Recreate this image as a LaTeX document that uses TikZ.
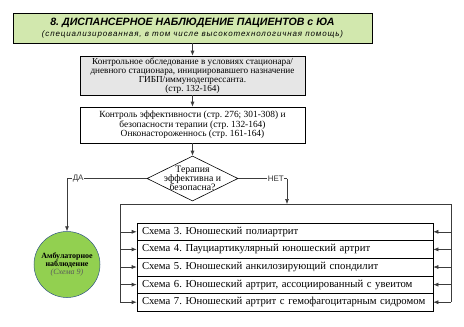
\documentclass[tikz,border=0pt]{standalone}
\usepackage{fontspec}
\setmainfont{Liberation Serif}
\newfontfamily\arialf{Liberation Sans}
\newfontfamily\arialsub[LetterSpace=11]{Liberation Sans}
\usetikzlibrary{shapes.geometric,arrows.meta,shadows}
\frenchspacing
\definecolor{titlegreen}{RGB}{210,232,174}
\definecolor{boxgray}{RGB}{230,230,230}
\definecolor{circgreen}{RGB}{146,208,80}
\definecolor{circedge}{RGB}{47,85,130}
\definecolor{linegray}{RGB}{60,60,60}
\definecolor{schemegray}{RGB}{90,90,90}
\tikzset{
  shbox/.style={draw=black, line width=0.6pt, drop shadow={shadow xshift=1.3pt, shadow yshift=-1.3pt, fill=black!55, opacity=1}},
  rowbox/.style={draw=black, line width=0.6pt, fill=white, minimum height=17.6pt, text width=286pt, inner xsep=5pt, inner ysep=0pt, align=left, font=\fontsize{10.7}{12}\selectfont},
  conn/.style={draw=linegray, line width=0.6pt},
  arr/.style={conn, -{Latex[length=5pt,width=4pt]}},
  yesno/.style={font=\arialf\fontsize{8}{8}\selectfont, text=black!80, fill=white, inner sep=0.5pt}
}
\begin{document}
\begin{tikzpicture}[x=1pt,y=-1pt]
\useasboundingbox (0,0) rectangle (464,327);
% title
\node[shbox, fill=titlegreen, minimum width=359pt, minimum height=30pt, inner sep=0pt, align=center] (title) at (192.5,28)
  {\arialf\bfseries\itshape\fontsize{10.6}{11}\selectfont 8. ДИСПАНСЕРНОЕ НАБЛЮДЕНИЕ ПАЦИЕНТОВ с ЮА\\[-1pt]
   \arialsub\itshape\fontsize{8}{8}\selectfont (специализированная, в том числе высокотехнологичная помощь)};
% box 2
\node[shbox, fill=boxgray, minimum width=225pt, minimum height=39pt, inner sep=0pt, align=center, font=\fontsize{9.2}{9}\selectfont] (exam) at (192.5,75.5)
  {Контрольное обследование в условиях стационара/\\дневного стационара, инициировавшего назначение\\ГИБП/иммунодепрессанта.\\(стр. 132-164)};
% box 3
\node[shbox, fill=white, minimum width=225pt, minimum height=36pt, inner sep=0pt, align=center, font=\fontsize{9.4}{9.5}\selectfont] (ctrl) at (192.5,125)
  {Контроль эффективности (стр. 276; 301-308) и\\безопасности терапии (стр. 132-164)\\Онконастороженнось (стр. 161-164)};
% diamond
\node[draw=black, line width=0.6pt, diamond, minimum width=91pt, minimum height=45pt, inner sep=0pt] (dec) at (192.5,178.5) {};
\node[align=center, inner sep=0pt, font=\fontsize{9.8}{9.3}\selectfont] (dectext) at (192.5,178.5) {Терапия\\эффективна и\\безопасна?};
% circle
\node[circle, draw=circedge, line width=0.5pt, fill=circgreen, minimum size=66pt, inner sep=0pt, align=center, font=\fontsize{8}{8}\selectfont] (amb) at (67,264.5)
  {\bfseries Амбулаторное\\\bfseries наблюдение\\\itshape\color{schemegray}(Схема 9)};
% rows
\node[rowbox] (r1) at (285,231.8) {Схема 3. Юношеский полиартрит};
\node[rowbox] (r2) at (285,249.4) {Схема 4. Пауциартикулярный юношеский артрит};
\node[rowbox] (r3) at (285,267.0) {Схема 5. Юношеский анкилозирующий спондилит};
\node[rowbox] (r4) at (285,284.6) {Схема 6. Юношеский артрит, ассоциированный с увеитом};
\node[rowbox] (r5) at (285,302.2) {Схема 7. Юношеский артрит с гемофагоцитарным сидромом};
% coordinates
\coordinate (yescorner) at (67,178.5);
\coordinate (nocorner) at (287,178.5);
\coordinate (fl) at (120,204);
\coordinate (fr) at (451,204);
% connectors
\draw[arr] (title.south) -- (exam.north);
\draw[arr] (exam.south) -- (ctrl.north);
\draw[arr] (ctrl.south) -- (dec.north);
\draw[conn] (dec.west) -- node[yesno, pos=0.86] {ДА} (yescorner);
\draw[arr] (yescorner) -- (amb.north);
\draw[conn] (dec.east) -- node[yesno, pos=0.77] {НЕТ} (nocorner);
\draw[arr] (nocorner) -- (nocorner |- fl);
\draw[conn] (fl |- r5.west) -- (fl) -- (fr) -- (fr |- r5.east);
\foreach \i in {1,...,5} {
  \draw[arr] (fl |- r\i.west) -- (r\i.west);
  \draw[arr] (fr |- r\i.east) -- (r\i.east);
}
\end{tikzpicture}
\end{document}
